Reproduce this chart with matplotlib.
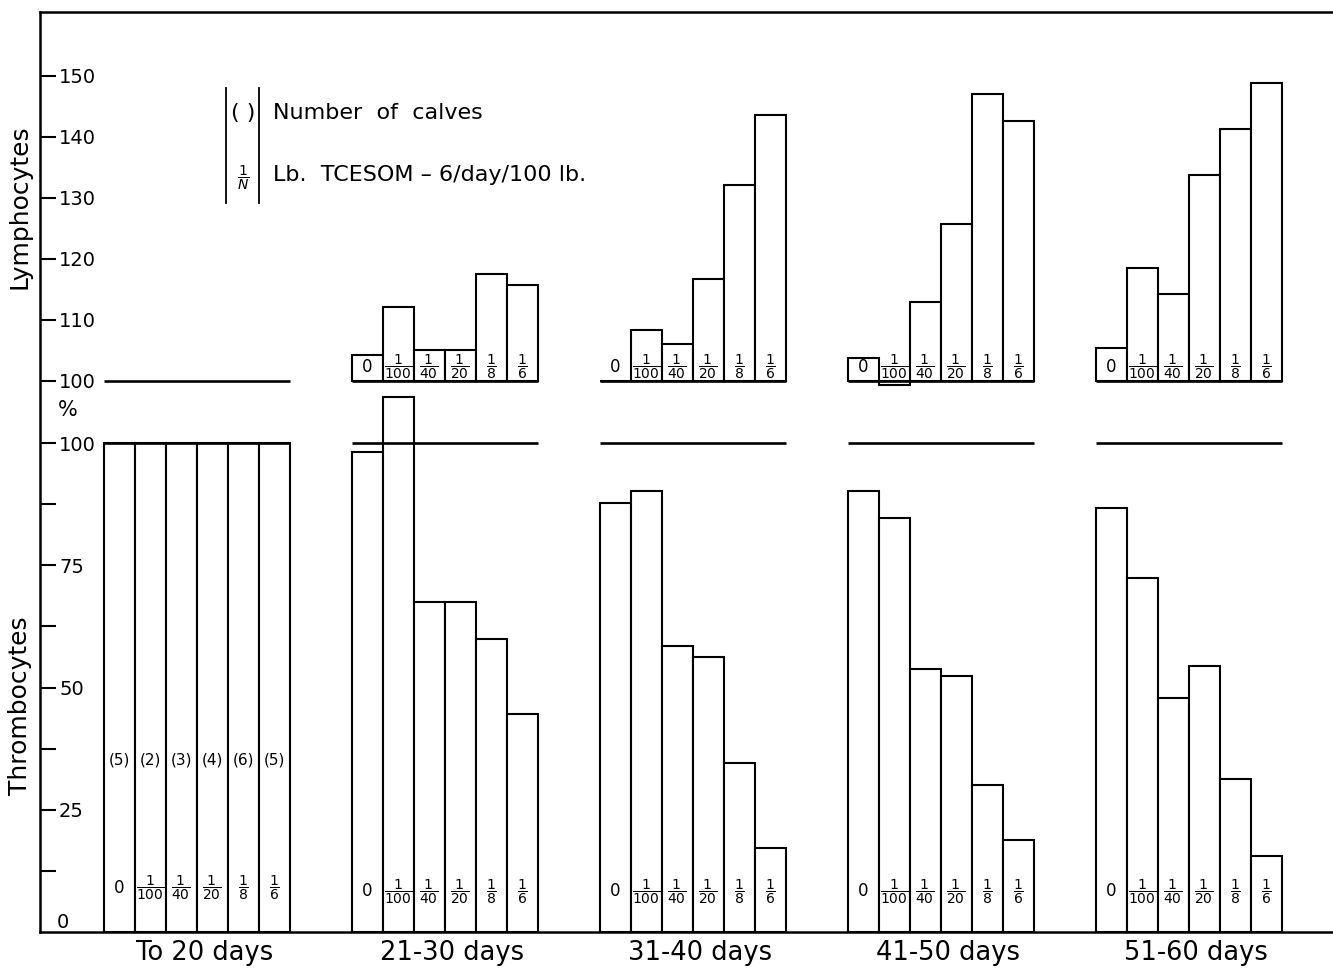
import matplotlib.pyplot as plt
import numpy as np

# periods and doses (lb. TCESOM-6/day/100 lb.)
periods = ['To 20 days', '21-30 days', '31-40 days', '41-50 days', '51-60 days']
doses = ['0', '1/100', '1/40', '1/20', '1/8', '1/6']
calves = ['(5)', '(2)', '(3)', '(4)', '(6)', '(5)']

# thrombocytes, % of initial value
thromb_20 = [100, 100, 100, 100, 100, 100]
thromb_30 = [98.1, 109.5, 67.4, 67.4, 59.9, 44.6]
thromb_40 = [87.7, 90.2, 58.5, 56.3, 34.6, 17.2]
thromb_50 = [90.2, 84.6, 53.7, 52.4, 30.1, 18.8]
thromb_60 = [86.8, 72.3, 47.9, 54.3, 31.2, 15.5]

# lymphocytes, % of initial value (no bars for first period)
lymph_30 = [104.1, 112.0, 105.0, 105.0, 117.5, 115.6]
lymph_40 = [100.0, 108.2, 106.0, 116.6, 132.0, 143.5]
lymph_50 = [103.7, 99.2, 112.8, 125.6, 146.9, 142.6]
lymph_60 = [105.3, 118.5, 114.2, 133.7, 141.3, 148.7]

thromb = [thromb_20, thromb_30, thromb_40, thromb_50, thromb_60]
lymph = [None, lymph_30, lymph_40, lymph_50, lymph_60]


def dose_label(d):
    if d == '0':
        return '0'
    n, m = d.split('/')
    return r'$\dfrac{%s}{%s}$' % (n, m)


fig = plt.figure(figsize=(13.33, 9.71), dpi=100)
rect = [40 / 1333, 39 / 971, 1293 / 1333, 920 / 971]
ax = fig.add_axes(rect)     # thrombocytes, lower part
axu = fig.add_axes(rect)    # lymphocytes, upper part
axu.patch.set_visible(False)
for s in axu.spines.values():
    s.set_visible(False)
ax.spines['right'].set_visible(False)
for s in ['left', 'top', 'bottom']:
    ax.spines[s].set_linewidth(1.8)

xlim = (-2.05, 39.66)
ax.set_xlim(xlim)
axu.set_xlim(xlim)
ax.set_ylim(0, 188.14)
axu.set_ylim(9.59, 160.41)

lw = 1.5
for g in range(len(periods)):
    x = 8 * g + np.arange(len(doses))
    ax.bar(x, thromb[g], width=1, align='edge', facecolor='white',
           edgecolor='black', lw=lw, zorder=2)
    ax.hlines(100, 8 * g, 8 * g + 6, color='black', lw=lw + 0.4, zorder=3)
    axu.hlines(100, 8 * g, 8 * g + 6, color='black', lw=lw + 0.4, zorder=3)
    if lymph[g] is not None:
        vals = np.array(lymph[g]) - 100
        axu.bar(x, vals, bottom=100, width=1, align='edge', facecolor='white',
                edgecolor='black', lw=lw, zorder=2)
    ylow = 9.0 if g == 0 else 8.3
    for i, d in enumerate(doses):
        fs = 12 if d == '0' else 10
        ax.text(x[i] + 0.5, ylow, dose_label(d), ha='center', va='center',
                fontsize=fs, zorder=4)
        if lymph[g] is not None:
            axu.text(x[i] + 0.5, 102.2, dose_label(d), ha='center', va='center',
                     fontsize=fs, zorder=4)
        if g == 0:
            ax.text(x[i] + 0.5, 35.2, calves[i], ha='center', va='center',
                    fontsize=11, zorder=4)

# y ticks (inside, labels to the right of the tick)
ax.set_yticks([12.5, 25, 37.5, 50, 62.5, 75, 87.5, 100],
              ['', '25', '', '50', '', '75', '', '100'])
ax.tick_params(axis='y', direction='in', length=11.5, width=1.5, pad=-13.7,
               labelsize=14)
plt.setp(ax.get_yticklabels(), ha='left')
axu.set_yticks([100, 110, 120, 130, 140, 150])
axu.tick_params(axis='y', direction='in', length=11.5, width=1.5, pad=-13.7,
                labelsize=14)
plt.setp(axu.get_yticklabels(), ha='left')
axu.set_xticks([])

ax.set_xticks(8 * np.arange(len(periods)) + 3.25, periods)
ax.tick_params(axis='x', length=0, pad=6, labelsize=18.5)

ax.text(-1.31, 2.0, '0', ha='center', va='center', fontsize=14)
ax.text(-1.15, 106.7, '%', ha='center', va='center', fontsize=15)

fig.text(20 / 1333, 1 - 207 / 971, 'Lymphocytes', rotation=90,
         ha='center', va='center', fontsize=18)
fig.text(20 / 1333, 1 - 706 / 971, 'Thrombocytes', rotation=90,
         ha='center', va='center', fontsize=18)

# key
axu.plot([3.95, 3.95], [129.1, 147.95], color='black', lw=1.3)
axu.plot([5.02, 5.02], [129.1, 147.95], color='black', lw=1.3)
axu.text(4.5, 143.85, '( )', ha='center', va='center', fontsize=16)
axu.text(4.5, 133.2, r'$\dfrac{1}{N}$', ha='center', va='center', fontsize=10)
axu.text(5.47, 143.85, 'Number  of  calves', ha='left', va='center', fontsize=16)
axu.text(5.47, 133.7, 'Lb.  TCESOM \u2013 6/day/100 lb.', ha='left', va='center',
         fontsize=16)

fig.savefig('out.png', dpi=100)
